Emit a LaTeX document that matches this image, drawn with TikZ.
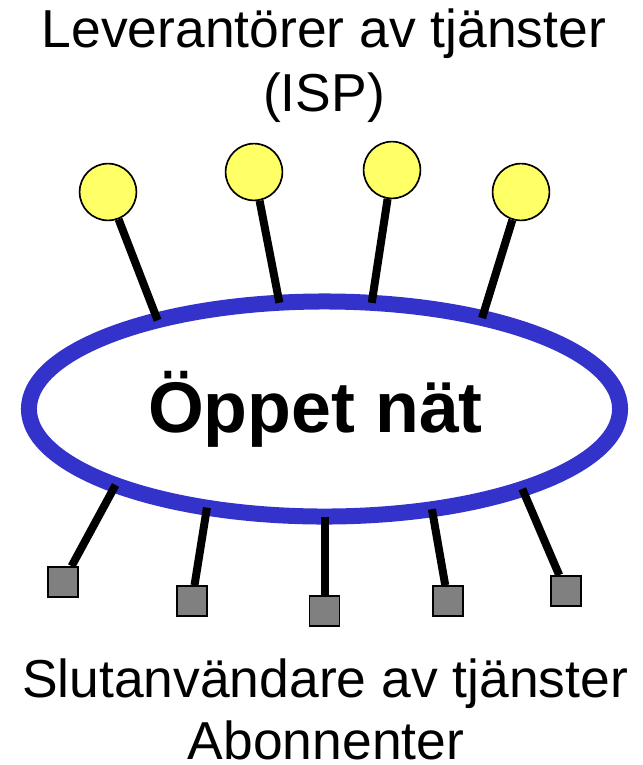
\documentclass[tikz,border=0pt]{standalone}
\usepackage{fontspec}
\setmainfont{Liberation Sans}
\usetikzlibrary{shapes.geometric}
\definecolor{netblue}{RGB}{51,51,204}
\definecolor{ispyellow}{RGB}{255,255,102}
\definecolor{usergray}{RGB}{128,128,128}
\begin{document}
\begin{tikzpicture}[x = 0.025cm, y = -0.025cm,
    isp/.style = {circle, draw, line width = 1.2pt, fill = ispyellow, minimum size = 1.42cm, inner sep = 0},
    user/.style = {rectangle, draw, line width = 1.2pt, fill = usergray, minimum size = 0.75cm, inner sep = 0},
    wire/.style = {line width = 0.2cm},
    caption/.style = {anchor = base, inner sep = 0, font = \fontsize{38}{45}\selectfont}]
\useasboundingbox (0, 0) rectangle (643, 765);
\node[caption] (isptext) at (324, 47) {Leverantörer av tjänster};
\node[caption] (ispabbr) at (324, 111) {(ISP)};
\node[ellipse, draw = netblue, line width = 0.4cm, minimum width = 14.775cm, minimum height = 5.375cm,
    inner sep = 0, outer sep = 0] (net) at (324.5, 409) {};
\node[anchor = base, inner sep = 0, font = \fontsize{51}{60}\selectfont\bfseries] (nettext) at (315.5, 432) {Öppet nät};
\foreach \n/\x/\y/\a in {1/108/192/152, 2/254/172/113.5, 3/392/170/66.5, 4/521/192/30}
    {\node[isp] (isp\n) at (\x, \y) {}; \draw[wire] (isp\n) -- (net.\a);};
\foreach \n/\x/\y/\a in {1/63/582/200, 2/192/601/220.5, 3/324.5/611/270, 4/448/601/317, 5/566/591/338}
    {\node[user] (user\n) at (\x, \y) {}; \draw[wire] (net.\a) -- (user\n);};
\node[caption] (usertext) at (325, 697) {Slutanvändare av tjänster};
\node[caption] (subs) at (326, 759) {Abonnenter};
\end{tikzpicture}
\end{document}
